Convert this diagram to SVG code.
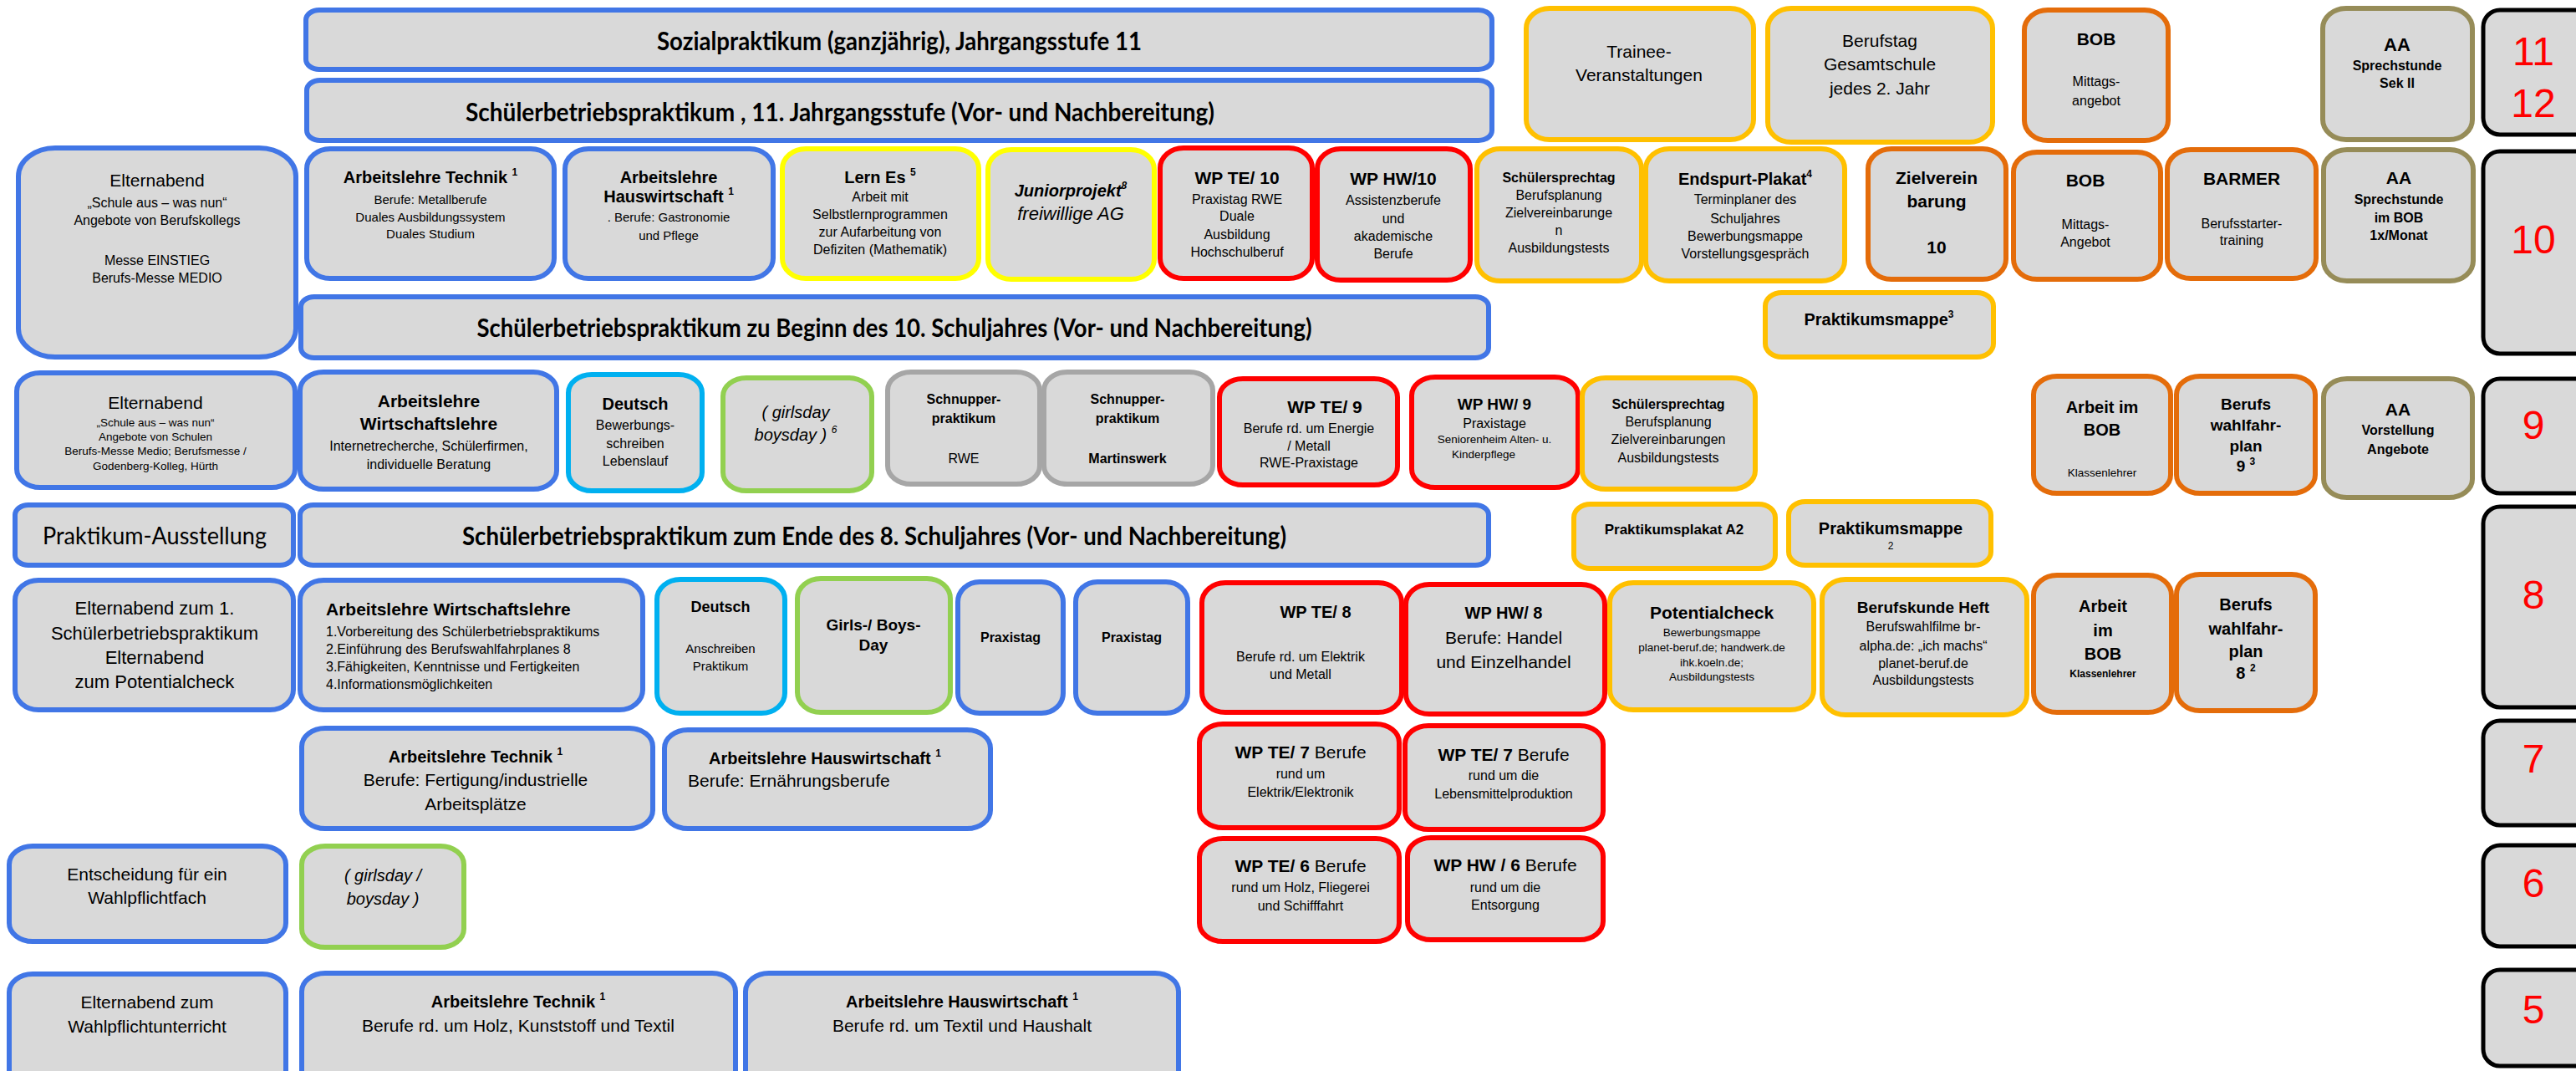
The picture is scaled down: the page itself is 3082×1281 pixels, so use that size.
<svg xmlns="http://www.w3.org/2000/svg" width="3082" height="1281" viewBox="0 0 3082 1281">
<style>
rect{fill:#D9D9D9;stroke-width:6}
.bl{stroke:#4176E6}.ye{stroke:#FFFF00}.rd{stroke:#FF0000}.go{stroke:#FFC000}.or{stroke:#E46C0A}.ol{stroke:#968C58}.cy{stroke:#00B0F0}.gr{stroke:#92D050}.gy{stroke:#A6A6A6}.bk{stroke:#000;stroke-width:5}
text{font-family:"Liberation Sans",Arial,sans-serif;text-anchor:middle;fill:#000;font-size:16px}
.b{font-weight:bold}.i{font-style:italic}.s{text-anchor:start}
.big{font-family:Lato,"Liberation Sans",sans-serif;font-weight:bold;font-size:30px}
.lt{font-family:Lato,"Liberation Sans",sans-serif;font-size:28px}
.num{fill:#FF0000;font-size:48px}
.f12{font-size:12px}.f13{font-size:13.5px}.f15{font-size:15px}.f16{font-size:16px}.f17{font-size:17px}.f18{font-size:18px}.f19{font-size:19px}.f20{font-size:20px}.f21{font-size:21px}.f22{font-size:22px}
.sup{font-size:12px}
</style>
<g id="connectors"/>

<g id="sozial"><rect class="bl" x="366" y="12" width="1419" height="71" rx="16" ry="12"/><text class="big" x="1076" y="60" textLength="580" lengthAdjust="spacingAndGlyphs">Sozialpraktikum (ganzjährig), Jahrgangsstufe 11</text></g>
<g id="sbp11"><rect class="bl" x="367" y="96" width="1418" height="72" rx="16" ry="12"/><text class="big" x="1005" y="145" textLength="896" lengthAdjust="spacingAndGlyphs">Schülerbetriebspraktikum ,  11. Jahrgangsstufe  (Vor- und Nachbereitung)</text></g>
<g id="trainee"><rect class="go" x="1826" y="10" width="272" height="157" rx="28" ry="24"/><text class="f21" x="1961" y="69">Trainee-</text><text class="f21" x="1961" y="97">Veranstaltungen</text></g>
<g id="berufstag"><rect class="go" x="2115" y="10" width="269" height="160" rx="28" ry="24"/><text class="f21" x="2249" y="56">Berufstag</text><text class="f21" x="2249" y="84">Gesamtschule</text><text class="f21" x="2249" y="113">jedes 2. Jahr</text></g>
<g id="bob11"><rect class="or" x="2422" y="12" width="172" height="156" rx="28" ry="24"/><text class="b f21" x="2508" y="54">BOB</text><text class="f16" x="2508" y="103">Mittags-</text><text class="f16" x="2508" y="126">angebot</text></g>
<g id="aa11"><rect class="ol" x="2779" y="10" width="179" height="157" rx="28" ry="24"/><text class="b f22" x="2868" y="61">AA</text><text class="b f16" x="2868" y="84">Sprechstunde</text><text class="b f16" x="2868" y="105">Sek II</text></g>
<g id="g1112"><rect class="bk" x="2971" y="12" width="130" height="149" rx="20" ry="20"/><text class="num" x="3031" y="78">11</text><text class="num" x="3031" y="140">12</text></g>

<g id="eltern10"><rect class="bl" x="22" y="177" width="332" height="250" rx="44" ry="34"/><text class="f21" x="188" y="223">Elternabend</text><text class="f16" x="188" y="248">„Schule aus – was nun“</text><text class="f16" x="188" y="269">Angebote von Berufskollegs</text><text class="f16" x="188" y="317">Messe EINSTIEG</text><text class="f16" x="188" y="338">Berufs-Messe MEDIO</text></g>
<g id="alt10"><rect class="bl" x="367" y="178" width="296" height="155" rx="28" ry="24"/><text class="b f20" x="515" y="219">Arbeitslehre Technik <tspan class="sup" dy="-9">1</tspan></text><text class="f15" x="515" y="244">Berufe: Metallberufe</text><text class="f15" x="515" y="265">Duales Ausbildungssystem</text><text class="f15" x="515" y="285">Duales Studium</text></g>
<g id="alh10"><rect class="bl" x="676" y="178" width="249" height="155" rx="28" ry="24"/><text class="b f20" x="800" y="219">Arbeitslehre</text><text class="b f20" x="800" y="242">Hauswirtschaft <tspan class="sup" dy="-9">1</tspan></text><text class="f15" x="800" y="265">.  Berufe: Gastronomie</text><text class="f15" x="800" y="287">und Pflege</text></g>
<g id="lernes"><rect class="ye" x="936" y="178" width="235" height="155" rx="28" ry="24"/><text class="b f20" x="1053" y="219">Lern Es <tspan class="sup" dy="-9">5</tspan></text><text class="f16" x="1053" y="241">Arbeit mit</text><text class="f16" x="1053" y="262">Selbstlernprogrammen</text><text class="f16" x="1053" y="283">zur Aufarbeitung von</text><text class="f16" x="1053" y="304">Defiziten (Mathematik)</text></g>
<g id="junior"><rect class="ye" x="1182" y="179" width="199" height="155" rx="28" ry="24"/><text class="b i f20" x="1281" y="235">Juniorprojekt<tspan class="sup" dy="-9">8</tspan></text><text class="i f22" x="1281" y="263">freiwillige AG</text></g>
<g id="wpte10"><rect class="rd" x="1388" y="177" width="182" height="156" rx="28" ry="24"/><text class="b f21" x="1480" y="220">WP TE/ 10</text><text class="f16" x="1480" y="244">Praxistag RWE</text><text class="f16" x="1480" y="264">Duale</text><text class="f16" x="1480" y="286">Ausbildung</text><text class="f16" x="1480" y="307">Hochschulberuf</text></g>
<g id="wphw10"><rect class="rd" x="1576" y="178" width="183" height="157" rx="28" ry="24"/><text class="b f21" x="1667" y="221">WP HW/10</text><text class="f16" x="1667" y="245">Assistenzberufe</text><text class="f16" x="1667" y="267">und</text><text class="f16" x="1667" y="288">akademische</text><text class="f16" x="1667" y="309">Berufe</text></g>
<g id="sst10"><rect class="go" x="1767" y="178" width="197" height="158" rx="28" ry="24"/><text class="b f16" x="1865" y="218">Schülersprechtag</text><text class="f16" x="1865" y="239">Berufsplanung</text><text class="f16" x="1865" y="260">Zielvereinbarunge</text><text class="f16" x="1865" y="281">n</text><text class="f16" x="1865" y="302">Ausbildungstests</text></g>
<g id="endspurt"><rect class="go" x="1969" y="178" width="238" height="158" rx="28" ry="24"/><text class="b f20" x="2088" y="221">Endspurt-Plakat<tspan class="sup" dy="-9">4</tspan></text><text class="f16" x="2088" y="244">Terminplaner des</text><text class="f16" x="2088" y="267">Schuljahres</text><text class="f16" x="2088" y="288">Bewerbungsmappe</text><text class="f16" x="2088" y="309">Vorstellungsgespräch</text></g>
<g id="ziel"><rect class="or" x="2235" y="178" width="165" height="156" rx="28" ry="24"/><text class="b f21" x="2317" y="220">Zielverein</text><text class="b f21" x="2317" y="248">barung</text><text class="b f21" x="2317" y="303">10</text></g>
<g id="bob10"><rect class="or" x="2409" y="182" width="176" height="152" rx="28" ry="24"/><text class="b f21" x="2495" y="223">BOB</text><text class="f16" x="2495" y="274">Mittags-</text><text class="f16" x="2495" y="295">Angebot</text></g>
<g id="barmer"><rect class="or" x="2593" y="179" width="178" height="154" rx="28" ry="24"/><text class="b f21" x="2682" y="221">BARMER</text><text class="f16" x="2682" y="273">Berufsstarter-</text><text class="f16" x="2682" y="293">training</text></g>
<g id="aa10"><rect class="ol" x="2780" y="179" width="179" height="157" rx="28" ry="24"/><text class="b f21" x="2870" y="220">AA</text><text class="b f16" x="2870" y="244">Sprechstunde</text><text class="b f16" x="2870" y="266">im BOB</text><text class="b f16" x="2870" y="287">1x/Monat</text></g>
<g id="g10"><rect class="bk" x="2971" y="181" width="130" height="242" rx="20" ry="20"/><text class="num" x="3031" y="303">10</text></g>
<g id="sbp10"><rect class="bl" x="360" y="355" width="1421" height="73" rx="16" ry="12"/><text class="big" x="1070" y="403" textLength="999" lengthAdjust="spacingAndGlyphs">Schülerbetriebspraktikum zu Beginn des 10. Schuljahres (Vor- und Nachbereitung)</text></g>
<g id="pmappe3"><rect class="go" x="2112" y="350" width="273" height="77" rx="20" ry="16"/><text class="b f20" x="2248" y="389">Praktikumsmappe<tspan class="sup" dy="-9">3</tspan></text></g>

<g id="eltern9"><rect class="bl" x="20" y="446" width="333" height="137" rx="28" ry="22"/><text class="f21" x="186" y="489">Elternabend</text><text class="f13" x="186" y="510">„Schule aus – was nun“</text><text class="f13" x="186" y="527">Angebote von Schulen</text><text class="f13" x="186" y="544">Berufs-Messe Medio;  Berufsmesse /</text><text class="f13" x="186" y="562">Godenberg-Kolleg, Hürth</text></g>
<g id="alw9"><rect class="bl" x="359" y="445" width="307" height="140" rx="28" ry="22"/><text class="b f21" x="513" y="487">Arbeitslehre</text><text class="b f21" x="513" y="514">Wirtschaftslehre</text><text class="f16" x="513" y="539">Internetrecherche, Schülerfirmen,</text><text class="f16" x="513" y="561">individuelle Beratung</text></g>
<g id="deutsch9"><rect class="cy" x="680" y="448" width="160" height="139" rx="28" ry="22"/><text class="b f20" x="760" y="490">Deutsch</text><text class="f16" x="760" y="514">Bewerbungs-</text><text class="f16" x="760" y="536">schreiben</text><text class="f16" x="760" y="557">Lebenslauf</text></g>
<g id="girls9"><rect class="gr" x="865" y="452" width="178" height="135" rx="28" ry="22"/><text class="i f20" x="952" y="500">( girlsday</text><text class="i f20" x="952" y="527">boysday ) <tspan class="sup" dy="-9">6</tspan></text></g>
<g id="schnrwe"><rect class="gy" x="1062" y="445" width="182" height="134" rx="28" ry="22"/><text class="b f16" x="1153" y="483">Schnupper-</text><text class="b f16" x="1153" y="506">praktikum</text><text class="f16" x="1153" y="554">RWE</text></g>
<g id="schnmw"><rect class="gy" x="1249" y="445" width="202" height="134" rx="28" ry="22"/><text class="b f16" x="1349" y="483">Schnupper-</text><text class="b f16" x="1349" y="506">praktikum</text><text class="b f16" x="1349" y="554">Martinswerk</text></g>
<g id="wpte9"><rect class="rd" x="1459" y="453" width="213" height="127" rx="28" ry="22"/><text class="b f21" x="1585" y="494">WP TE/ 9</text><text class="f16" x="1566" y="518">Berufe rd. um Energie</text><text class="f16" x="1566" y="539">/ Metall</text><text class="f16" x="1566" y="559">RWE-Praxistage</text></g>
<g id="wphw9"><rect class="rd" x="1689" y="451" width="199" height="132" rx="28" ry="22"/><text class="b f19" x="1788" y="490">WP HW/ 9</text><text class="f16" x="1788" y="512">Praxistage</text><text class="f13" x="1788" y="530">Seniorenheim Alten- u.</text><text class="f13" x="1775" y="548">Kinderpflege</text></g>
<g id="sst9"><rect class="go" x="1893" y="452" width="207" height="133" rx="28" ry="22"/><text class="b f16" x="1996" y="489">Schülersprechtag</text><text class="f16" x="1996" y="510">Berufsplanung</text><text class="f16" x="1996" y="531">Zielvereinbarungen</text><text class="f16" x="1996" y="553">Ausbildungstests</text></g>
<g id="bob9"><rect class="or" x="2433" y="450" width="164" height="140" rx="28" ry="22"/><text class="b f20" x="2515" y="494">Arbeit im</text><text class="b f20" x="2515" y="521">BOB</text><text class="f13" x="2515" y="570">Klassenlehrer</text></g>
<g id="bwp9"><rect class="or" x="2604" y="450" width="166" height="140" rx="28" ry="22"/><text class="b f19" x="2687" y="490">Berufs</text><text class="b f19" x="2687" y="515">wahlfahr-</text><text class="b f19" x="2687" y="540">plan</text><text class="b f19" x="2687" y="564">9 <tspan class="sup" dy="-8">3</tspan></text></g>
<g id="aa9"><rect class="ol" x="2780" y="453" width="178" height="142" rx="28" ry="22"/><text class="b f21" x="2869" y="497">AA</text><text class="b f16" x="2869" y="520">Vorstellung</text><text class="b f16" x="2869" y="543">Angebote</text></g>
<g id="g9"><rect class="bk" x="2971" y="453" width="130" height="137" rx="20" ry="20"/><text class="num" x="3031" y="525">9</text></g>

<g id="praktaus"><rect class="bl" x="18" y="604" width="333" height="72" rx="16" ry="12"/><text class="lt" x="185" y="651" textLength="268" lengthAdjust="spacingAndGlyphs">Praktikum-Ausstellung</text></g>
<g id="sbp8"><rect class="bl" x="359" y="604" width="1422" height="72" rx="16" ry="12"/><text class="big" x="1046" y="652" textLength="986" lengthAdjust="spacingAndGlyphs">Schülerbetriebspraktikum zum Ende des 8. Schuljahres (Vor- und Nachbereitung)</text></g>
<g id="plakat"><rect class="go" x="1883" y="603" width="241" height="77" rx="20" ry="16"/><text class="b f17" x="2003" y="639">Praktikumsplakat A2</text></g>
<g id="pmappe2"><rect class="go" x="2140" y="600" width="242" height="76" rx="20" ry="16"/><text class="b f20" x="2262" y="639">Praktikumsmappe</text><text class="f12" x="2262" y="657">2</text></g>
<g id="eltern8"><rect class="bl" x="18" y="694" width="333" height="155" rx="28" ry="24"/><text class="f22" x="185" y="735">Elternabend zum 1.</text><text class="f22" x="185" y="765">Schülerbetriebspraktikum</text><text class="f22" x="185" y="794">Elternabend</text><text class="f22" x="185" y="823">zum Potentialcheck</text></g>
<g id="alw8"><rect class="bl" x="359" y="694" width="410" height="155" rx="28" ry="24"/><text class="b f21 s" x="390" y="736">Arbeitslehre Wirtschaftslehre</text><text class="f16 s" x="390" y="761">1.Vorbereitung des Schülerbetriebspraktikums</text><text class="f16 s" x="390" y="782">2.Einführung des Berufswahlfahrplanes 8</text><text class="f16 s" x="390" y="803">3.Fähigkeiten, Kenntnisse  und Fertigkeiten</text><text class="f16 s" x="390" y="824">4.Informationsmöglichkeiten</text></g>
<g id="deutsch8"><rect class="cy" x="786" y="693" width="153" height="160" rx="28" ry="24"/><text class="b f18" x="862" y="732">Deutsch</text><text class="f15" x="862" y="781">Anschreiben</text><text class="f15" x="862" y="802">Praktikum</text></g>
<g id="girlsboys8"><rect class="gr" x="954" y="692" width="183" height="160" rx="28" ry="24"/><text class="b f19" x="1045" y="754">Girls-/ Boys-</text><text class="b f19" x="1045" y="778">Day</text></g>
<g id="praxis1"><rect class="bl" x="1146" y="696" width="126" height="157" rx="26" ry="24"/><text class="b f16" x="1209" y="768">Praxistag</text></g>
<g id="praxis2"><rect class="bl" x="1287" y="696" width="134" height="157" rx="26" ry="24"/><text class="b f16" x="1354" y="768">Praxistag</text></g>
<g id="wpte8"><rect class="rd" x="1438" y="697" width="239" height="155" rx="28" ry="24"/><text class="b f20" x="1574" y="739">WP TE/ 8</text><text class="f16" x="1556" y="791">Berufe rd. um Elektrik</text><text class="f16" x="1556" y="812">und Metall</text></g>
<g id="wphw8"><rect class="rd" x="1682" y="699" width="238" height="155" rx="28" ry="24"/><text class="b f20" x="1799" y="740">WP HW/ 8</text><text class="f21" x="1799" y="770">Berufe: Handel</text><text class="f21" x="1799" y="799">und Einzelhandel</text></g>
<g id="potential"><rect class="go" x="1926" y="697" width="244" height="152" rx="28" ry="24"/><text class="b f21" x="2048" y="740">Potentialcheck</text><text class="f13" x="2048" y="761">Bewerbungsmappe</text><text class="f13" x="2048" y="779">planet-beruf.de; handwerk.de</text><text class="f13" x="2048" y="797">ihk.koeln.de;</text><text class="f13" x="2048" y="814">Ausbildungstests</text></g>
<g id="bkheft"><rect class="go" x="2180" y="693" width="245" height="162" rx="28" ry="24"/><text class="b f19" x="2301" y="733">Berufskunde Heft</text><text class="f16" x="2301" y="755">Berufswahlfilme br-</text><text class="f16" x="2301" y="778">alpha.de: „ich machs“</text><text class="f16" x="2301" y="799">planet-beruf.de</text><text class="f16" x="2301" y="819">Ausbildungstests</text></g>
<g id="bob8"><rect class="or" x="2433" y="688" width="165" height="164" rx="28" ry="24"/><text class="b f20" x="2516" y="732">Arbeit</text><text class="b f20" x="2516" y="761">im</text><text class="b f20" x="2516" y="789">BOB</text><text class="b f12" x="2516" y="810">Klassenlehrer</text></g>
<g id="bwp8"><rect class="or" x="2604" y="687" width="166" height="163" rx="28" ry="24"/><text class="b f20" x="2687" y="730">Berufs</text><text class="b f20" x="2687" y="759">wahlfahr-</text><text class="b f20" x="2687" y="786">plan</text><text class="b f20" x="2687" y="812">8 <tspan class="sup" dy="-9">2</tspan></text></g>
<g id="g8"><rect class="bk" x="2971" y="606" width="130" height="240" rx="20" ry="20"/><text class="num" x="3031" y="728">8</text></g>

<g id="alt7"><rect class="bl" x="361" y="871" width="420" height="120" rx="28" ry="22"/><text class="b f20" x="569" y="912">Arbeitslehre Technik <tspan class="sup" dy="-9">1</tspan></text><text class="f21" x="569" y="940">Berufe: Fertigung/industrielle</text><text class="f21" x="569" y="969">Arbeitsplätze</text></g>
<g id="alh7"><rect class="bl" x="795" y="873" width="390" height="118" rx="28" ry="22"/><text class="b f20" x="987" y="914">Arbeitslehre Hauswirtschaft  <tspan class="sup" dy="-9">1</tspan></text><text class="f21 s" x="823" y="941">Berufe:  Ernährungsberufe</text></g>
<g id="wpte7"><rect class="rd" x="1435" y="866" width="239" height="124" rx="28" ry="22"/><text class="f21" x="1556" y="907"><tspan class="b">WP TE/ 7</tspan> Berufe</text><text class="f16" x="1556" y="931">rund um</text><text class="f16" x="1556" y="953">Elektrik/Elektronik</text></g>
<g id="wpte7b"><rect class="rd" x="1681" y="868" width="237" height="124" rx="28" ry="22"/><text class="f21" x="1799" y="910"><tspan class="b">WP TE/ 7</tspan>   Berufe</text><text class="f16" x="1799" y="933">rund um die</text><text class="f16" x="1799" y="955">Lebensmittelproduktion</text></g>
<g id="g7"><rect class="bk" x="2971" y="862" width="130" height="125" rx="20" ry="20"/><text class="num" x="3031" y="924">7</text></g>

<g id="entsch"><rect class="bl" x="11" y="1012" width="331" height="114" rx="28" ry="22"/><text class="f21" x="176" y="1053">Entscheidung für ein</text><text class="f21" x="176" y="1081">Wahlpflichtfach</text></g>
<g id="girls6"><rect class="gr" x="361" y="1012" width="194" height="121" rx="28" ry="22"/><text class="i f20" x="458" y="1054">( girlsday /</text><text class="i f20" x="458" y="1082">boysday )</text></g>
<g id="wpte6"><rect class="rd" x="1435" y="1003" width="239" height="123" rx="28" ry="22"/><text class="f21" x="1556" y="1043"><tspan class="b">WP TE/ 6</tspan> Berufe</text><text class="f16" x="1556" y="1067">rund um Holz, Fliegerei</text><text class="f16" x="1556" y="1089">und Schifffahrt</text></g>
<g id="wphw6"><rect class="rd" x="1684" y="1002" width="234" height="122" rx="28" ry="22"/><text class="f21" x="1801" y="1042"><tspan class="b">WP HW / 6</tspan> Berufe</text><text class="f16" x="1801" y="1067">rund um die</text><text class="f16" x="1801" y="1088">Entsorgung</text></g>
<g id="g6"><rect class="bk" x="2971" y="1011" width="130" height="121" rx="20" ry="20"/><text class="num" x="3031" y="1073">6</text></g>

<g id="eltern5"><rect class="bl" x="11" y="1165" width="331" height="140" rx="28" ry="22"/><text class="f21" x="176" y="1206">Elternabend zum</text><text class="f21" x="176" y="1235">Wahlpflichtunterricht</text></g>
<g id="alt5"><rect class="bl" x="361" y="1164" width="519" height="140" rx="28" ry="22"/><text class="b f20" x="620" y="1205">Arbeitslehre Technik <tspan class="sup" dy="-9">1</tspan></text><text class="f21" x="620" y="1234">Berufe rd. um Holz, Kunststoff und Textil</text></g>
<g id="alh5"><rect class="bl" x="892" y="1164" width="518" height="140" rx="28" ry="22"/><text class="b f20" x="1151" y="1205">Arbeitslehre Hauswirtschaft <tspan class="sup" dy="-9">1</tspan></text><text class="f21" x="1151" y="1234">Berufe rd. um Textil und Haushalt</text></g>
<g id="g5"><rect class="bk" x="2971" y="1160" width="130" height="115" rx="20" ry="20"/><text class="num" x="3031" y="1224">5</text></g>
</svg>
